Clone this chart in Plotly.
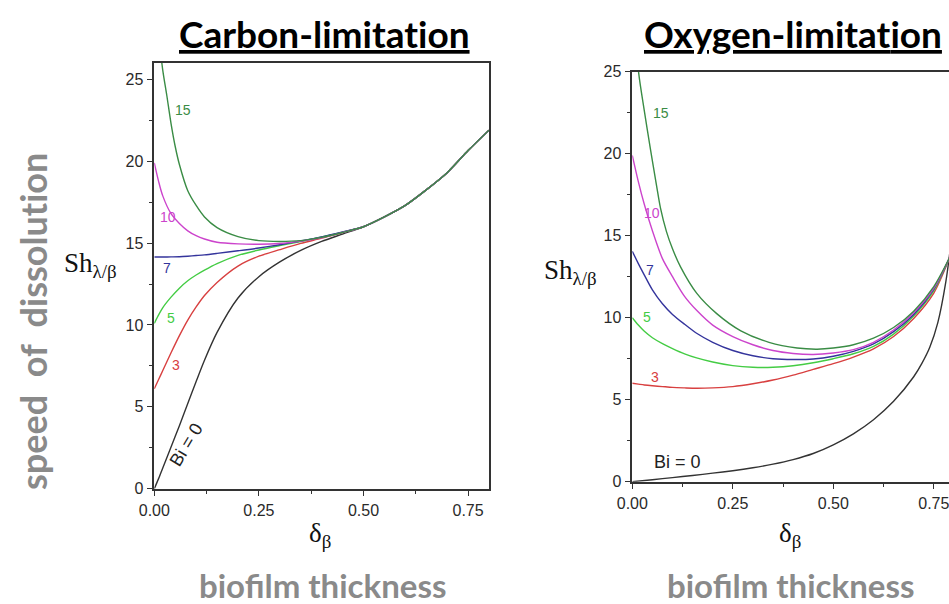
import plotly.graph_objects as go

# ---------------- data: Carbon-limitation (left) ----------------
c_x15 = [0.0, 0.01, 0.02, 0.03, 0.04, 0.05, 0.06, 0.08, 0.10, 0.12, 0.15, 0.20, 0.25, 0.30, 0.35, 0.40, 0.45, 0.50, 0.55, 0.60, 0.65, 0.70, 0.75, 0.80]
c_y15 = [30.0, 27.8, 25.6, 24.0, 22.3, 20.9, 19.8, 18.2, 17.3, 16.6, 15.95, 15.4, 15.15, 15.1, 15.15, 15.35, 15.65, 16.0, 16.6, 17.3, 18.25, 19.3, 20.65, 21.9]

c_x = [0.0, 0.01, 0.02, 0.04, 0.06, 0.08, 0.10, 0.12, 0.15, 0.20, 0.25, 0.30, 0.35, 0.40, 0.45, 0.50, 0.55, 0.60, 0.65, 0.70, 0.75, 0.80]
c_y10 = [19.9, 18.8, 17.9, 16.8, 16.2, 15.75, 15.45, 15.25, 15.05, 14.95, 14.93, 14.98, 15.12, 15.33, 15.65, 16.0, 16.6, 17.3, 18.25, 19.3, 20.65, 21.9]
c_y7 = [14.15, 14.15, 14.15, 14.16, 14.17, 14.2, 14.24, 14.28, 14.37, 14.53, 14.7, 14.9, 15.13, 15.38, 15.68, 16.0, 16.6, 17.3, 18.25, 19.3, 20.65, 21.9]
c_y5 = [10.1, 10.6, 11.05, 11.7, 12.25, 12.7, 13.05, 13.35, 13.75, 14.25, 14.58, 14.85, 15.1, 15.37, 15.67, 16.0, 16.6, 17.3, 18.25, 19.3, 20.65, 21.9]
c_y3 = [6.1, 6.65, 7.2, 8.3, 9.35, 10.3, 11.1, 11.8, 12.6, 13.6, 14.2, 14.6, 14.98, 15.3, 15.65, 16.0, 16.6, 17.3, 18.25, 19.3, 20.65, 21.9]
c_y0 = [0.0, 0.6, 1.25, 2.55, 3.85, 5.2, 6.55, 7.85, 9.55, 11.65, 12.95, 13.85, 14.55, 15.1, 15.55, 16.0, 16.6, 17.3, 18.25, 19.3, 20.65, 21.9]

# ---------------- data: Oxygen-limitation (right) ----------------
o_x15 = [0.0, 0.008, 0.016, 0.03, 0.045, 0.06, 0.07, 0.085, 0.10, 0.12, 0.16, 0.21, 0.27, 0.34, 0.41, 0.46, 0.50, 0.55, 0.60, 0.65, 0.70, 0.75, 0.79]
o_y15 = [30.0, 27.3, 24.9, 22.6, 20.3, 18.1, 16.7, 15.25, 14.2, 13.1, 11.5, 10.25, 9.2, 8.5, 8.15, 8.08, 8.15, 8.35, 8.75, 9.4, 10.4, 11.9, 13.7]

o_x = [0.0, 0.015, 0.03, 0.05, 0.075, 0.10, 0.13, 0.16, 0.20, 0.25, 0.30, 0.35, 0.40, 0.45, 0.50, 0.55, 0.60, 0.65, 0.70, 0.75, 0.79]
o_y10 = [19.9, 18.3, 16.9, 15.3, 13.6, 12.5, 11.3, 10.45, 9.55, 8.85, 8.35, 8.0, 7.82, 7.76, 7.85, 8.05, 8.5, 9.25, 10.3, 11.8, 13.7]
o_y7 = [14.05, 13.3, 12.6, 11.7, 10.85, 10.2, 9.6, 9.05, 8.5, 8.0, 7.68, 7.5, 7.45, 7.48, 7.65, 7.95, 8.4, 9.15, 10.2, 11.75, 13.7]
o_y5 = [10.0, 9.55, 9.17, 8.78, 8.42, 8.12, 7.8, 7.55, 7.3, 7.08, 6.98, 6.98, 7.07, 7.25, 7.5, 7.8, 8.25, 9.0, 10.1, 11.65, 13.7]
o_y3 = [6.0, 5.95, 5.9, 5.85, 5.8, 5.75, 5.72, 5.7, 5.72, 5.8, 5.97, 6.2, 6.5, 6.85, 7.2, 7.6, 8.1, 8.85, 9.95, 11.5, 13.7]

o_x0 = [0.0, 0.05, 0.10, 0.15, 0.20, 0.25, 0.30, 0.35, 0.40, 0.45, 0.50, 0.55, 0.60, 0.65, 0.70, 0.72, 0.74, 0.76, 0.78, 0.79]
o_y0 = [0.0, 0.12, 0.25, 0.38, 0.52, 0.67, 0.85, 1.07, 1.35, 1.72, 2.25, 2.92, 3.78, 4.9, 6.4, 7.2, 8.2, 9.7, 12.2, 14.0]

series_colors = {"15": "#3a8c45", "10": "#cc44cc", "7": "#34349c", "5": "#44cc44", "3": "#d84040", "0": "#333333"}

c_labels = [("15", 0.069, 23.1), ("10", 0.033, 16.6), ("7", 0.030, 13.45), ("5", 0.040, 10.4), ("3", 0.052, 7.55)]
o_labels = [("15", 0.071, 22.5), ("10", 0.050, 16.4), ("7", 0.044, 12.9), ("5", 0.037, 10.05), ("3", 0.056, 6.4)]

fig = go.Figure()

def add(x, y, key, xa, ya):
    fig.add_trace(go.Scatter(x=x, y=y, mode="lines", line=dict(color=series_colors[key], width=1.4, shape="spline", smoothing=0.8),
                             xaxis=xa, yaxis=ya, showlegend=False, hoverinfo="skip"))

add(c_x, c_y0, "0", "x", "y")
add(c_x, c_y3, "3", "x", "y")
add(c_x, c_y5, "5", "x", "y")
add(c_x, c_y7, "7", "x", "y")
add(c_x, c_y10, "10", "x", "y")
add(c_x15, c_y15, "15", "x", "y")

add(o_x0, o_y0, "0", "x2", "y2")
add(o_x, o_y3, "3", "x2", "y2")
add(o_x, o_y5, "5", "x2", "y2")
add(o_x, o_y7, "7", "x2", "y2")
add(o_x, o_y10, "10", "x2", "y2")
add(o_x15, o_y15, "15", "x2", "y2")

W, H = 949, 604
def px(v): return v / W
def py(v): return (H - v) / H

axis_common = dict(showline=True, linecolor="#333333", linewidth=1.5, ticks="outside", ticklen=6, tickwidth=1.3,
                   tickcolor="#333333", showgrid=False, zeroline=False, automargin=False,
                   ticklabeloverflow="allow",
                   tickfont=dict(family="Arial, Liberation Sans", size=16, color="#2a2a2a"))

fig.update_layout(
    template="none",
    width=W, height=H, margin=dict(l=0, r=0, t=0, b=0, pad=0),
    paper_bgcolor="white", plot_bgcolor="white",
    xaxis=dict(domain=[px(154.3), px(489)], range=[0, 0.8], dtick=0.25, tickformat=".2f", mirror=True, anchor="y",
               minor=dict(ticks="outside", dtick=0.125, ticklen=4, tickcolor="#333333"), **axis_common),
    yaxis=dict(domain=[py(488.7), py(63)], range=[0, 26], dtick=5, mirror=True, anchor="x",
               minor=dict(ticks="outside", dtick=2.5, ticklen=4, tickcolor="#333333"), **axis_common),
    xaxis2=dict(domain=[px(632.3), 1.0], range=[0, 0.7878], dtick=0.25, tickformat=".2f", mirror=True, anchor="y2",
                minor=dict(ticks="outside", dtick=0.125, ticklen=4, tickcolor="#333333"), **axis_common),
    yaxis2=dict(domain=[py(481.7), py(71.7)], range=[0, 25], dtick=5, mirror=False, anchor="x2",
                minor=dict(ticks="outside", dtick=2.5, ticklen=4, tickcolor="#333333"), **axis_common),
)

anns = []
for t, x, y in c_labels:
    anns.append(dict(text=t, x=x, y=y, xref="x", yref="y", showarrow=False,
                     font=dict(family="Arial, Liberation Sans", size=14, color=series_colors[t])))
for t, x, y in o_labels:
    anns.append(dict(text=t, x=x, y=y, xref="x2", yref="y2", showarrow=False,
                     font=dict(family="Arial, Liberation Sans", size=14, color=series_colors[t])))
anns.append(dict(text="Bi = 0", x=0.078, y=2.7, xref="x", yref="y", showarrow=False, textangle=-59,
                 font=dict(family="Arial, Liberation Sans", size=18, color="#222222")))
anns.append(dict(text="Bi = 0", x=0.113, y=1.2, xref="x2", yref="y2", showarrow=False,
                 font=dict(family="Arial, Liberation Sans", size=18, color="#222222")))

ZW = "\u200c"
title_font = dict(family="Lato, Open Sans", size=37, color="black")
anns.append(dict(text="<b><u>Carbon-limitat" + ZW + "ion</u></b>", x=px(324), y=py(33), xref="paper", yref="paper",
                 showarrow=False, font=title_font, xanchor="center", yanchor="middle"))
anns.append(dict(text="<b><u>Oxygen-limitat" + ZW + "ion</u></b>", x=px(793), y=py(33), xref="paper", yref="paper",
                 showarrow=False, font=title_font, xanchor="center", yanchor="middle"))

anns.append(dict(text="<b>speed  of  dissolut" + ZW + "ion</b>", x=px(33), y=py(322), xref="paper", yref="paper",
                 showarrow=False, font=dict(family="Lato, Open Sans", size=36, color="#8a8a8a"),
                 textangle=-90, xanchor="center", yanchor="middle"))
gray_font = dict(family="Lato, Open Sans", size=33, color="#8a8a8a")
anns.append(dict(text="<b>biofilm thickness</b>", x=px(322), y=py(585), xref="paper", yref="paper",
                 showarrow=False, font=gray_font, xanchor="center", yanchor="middle"))
anns.append(dict(text="<b>biofilm thickness</b>", x=px(790), y=py(585), xref="paper", yref="paper",
                 showarrow=False, font=gray_font, xanchor="center", yanchor="middle"))

sym_font = dict(family="Liberation Serif, DejaVu Serif", size=27, color="#111111")
anns.append(dict(text="Sh<sub>λ/β</sub>", x=px(90), y=py(265), xref="paper", yref="paper",
                 showarrow=False, font=sym_font, xanchor="center", yanchor="middle"))
anns.append(dict(text="Sh<sub>λ/β</sub>", x=px(570), y=py(272), xref="paper", yref="paper",
                 showarrow=False, font=sym_font, xanchor="center", yanchor="middle"))
anns.append(dict(text="δ<sub>β</sub>", x=px(320), y=py(535), xref="paper", yref="paper",
                 showarrow=False, font=sym_font, xanchor="center", yanchor="middle"))
anns.append(dict(text="δ<sub>β</sub>", x=px(790), y=py(535), xref="paper", yref="paper",
                 showarrow=False, font=sym_font, xanchor="center", yanchor="middle"))

fig.update_layout(annotations=anns)
fig.write_html("out.html", config={"displayModeBar": False},
               post_script="document.body.style.margin='0';document.body.style.overflow='hidden';")
